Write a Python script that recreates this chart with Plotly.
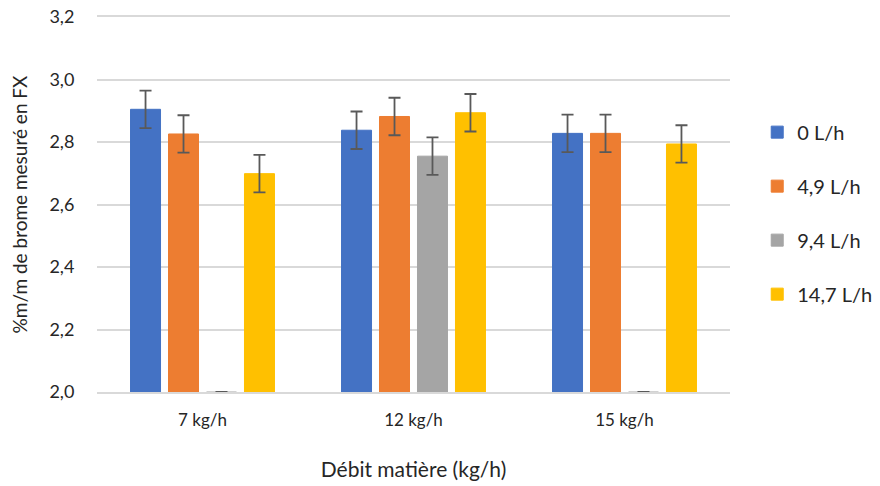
import plotly.graph_objects as go

categories = ["7 kg/h", "12 kg/h", "15 kg/h"]
series_names = ["0 L/h", "4,9 L/h", "9,4 L/h", "14,7 L/h"]
values = {
    "0 L/h":    [2.905, 2.838, 2.828],
    "4,9 L/h":  [2.826, 2.882, 2.828],
    "9,4 L/h":  [2.0, 2.755, 2.0],
    "14,7 L/h": [2.699, 2.894, 2.794],
}
errors = {
    "0 L/h":    [0.06, 0.06, 0.06],
    "4,9 L/h":  [0.06, 0.06, 0.06],
    "9,4 L/h":  [float("nan"), 0.06, float("nan")],
    "14,7 L/h": [0.06, 0.06, 0.06],
}
colors = ["#4472C4", "#ED7D31", "#A5A5A5", "#FFC000"]

fig = go.Figure()
for name, col in zip(series_names, colors):
    fig.add_trace(go.Bar(
        x=categories, y=values[name], name=name, legendgroup=name,
        marker=dict(color=col, line=dict(color=col, width=1)),
        error_y=dict(type="data", array=errors[name], visible=True,
                     color="#595959", thickness=1.8, width=6),
    ))

font = "Lato, 'Open Sans', sans-serif"
txt = "#262626"
fig.update_layout(
    width=880, height=486,
    margin=dict(l=97, r=150, t=17, b=94, autoexpand=False),
    paper_bgcolor="white", plot_bgcolor="white",
    barmode="group", bargap=0.28, bargroupgap=0.21,
    separators=", ",
    font=dict(family=font, size=15, color=txt),
    xaxis=dict(title=dict(text="Débit matière (kg/h)", font=dict(size=21, color=txt), standoff=33),
               automargin=False,
               showline=True, mirror=True, linecolor="#D9D9D9", linewidth=1.5,
               ticks="outside", ticklen=12, tickcolor="rgba(0,0,0,0)",
               tickfont=dict(size=17, color=txt)),
    yaxis=dict(title=dict(text="%m/m de brome mesuré en FX", font=dict(size=19, color=txt), standoff=16),
               automargin=False,
               range=[2.0, 3.2005], dtick=0.2, tickformat=".1f",
               showgrid=True, gridcolor="#D9D9D9", gridwidth=1.5, zeroline=False,
               ticks="outside", ticklen=18, tickcolor="rgba(0,0,0,0)",
               tickfont=dict(size=18, color=txt)),
    legend=dict(x=1.043, y=0.745, xanchor="left", yanchor="top",
                font=dict(size=20, color=txt), tracegroupgap=25,
                itemwidth=30, borderwidth=0),
)

fig.write_html("out.html", config={"displayModeBar": False},
               post_script="document.body.style.margin='0';document.body.style.overflow='hidden';")
